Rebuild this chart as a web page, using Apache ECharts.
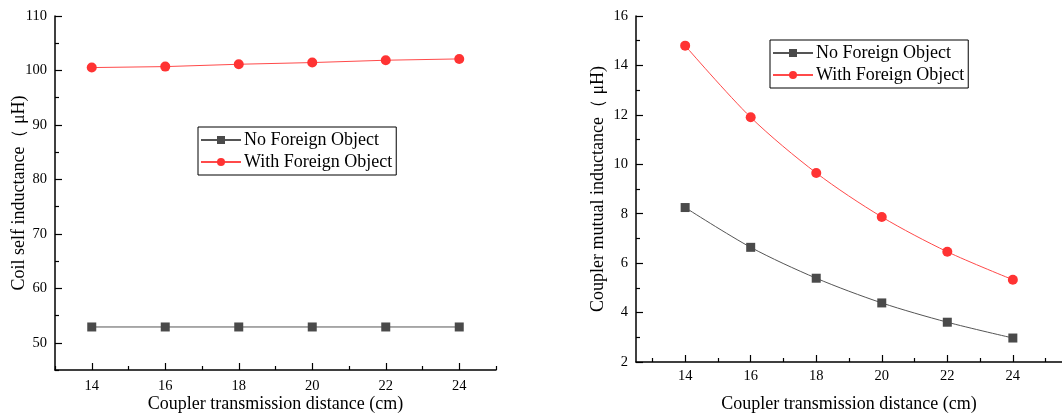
<!DOCTYPE html>
<html>
<head>
<meta charset="utf-8">
<script src="https://cdn.jsdelivr.net/npm/echarts@6/dist/echarts.min.js"></script>
<style>html,body{margin:0;padding:0;background:#fff;}#c{width:1062px;height:419px;}</style>
</head>
<body>
<div id="c"></div>
<script>
const distances = [14, 16, 18, 20, 22, 24];
const selfNoFO = [52.9, 52.9, 52.9, 52.9, 52.9, 52.9];
const selfWithFO = [100.53, 100.71, 101.14, 101.45, 101.88, 102.12];
const mutualNoFO = [8.25, 6.64, 5.39, 4.39, 3.61, 2.97];
const mutualWithFO = [14.80, 11.90, 9.65, 7.87, 6.46, 5.33];
const xMajor = [14, 16, 18, 20, 22, 24];
const xMinorLeft = [13, 15, 17, 19, 21, 23, 25];
const xMinorRight = [13, 15, 17, 19, 21, 23, 25];
const yMajorLeft = [50, 60, 70, 80, 90, 100, 110];
const yMinorLeft = [45, 55, 65, 75, 85, 95, 105];
const yMajorRight = [2, 4, 6, 8, 10, 12, 14, 16];
const yMinorRight = [3, 5, 7, 9, 11, 13, 15];

const FONT = 'Liberation Serif';
const NAME1 = 'No Foreign Object';
const NAME2 = 'With Foreign Object';
const pair = (xs, ys) => xs.map((x, i) => [x, ys[i]]);

function xAx(grid, min, max, majors, minors, namePad, labelMargin) {
  const base = {
    type: 'value', gridIndex: grid, min: min, max: max, position: 'bottom',
    splitLine: {show: false},
    axisLine: {show: true, onZero: false, lineStyle: {color: '#000', width: 1.5}}
  };
  return [
    Object.assign({}, base, {
      name: 'Coupler transmission distance (cm)',
      nameLocation: 'middle', nameGap: namePad, nameMoveOverlap: false,
      nameTextStyle: {fontFamily: FONT, fontSize: 18, color: '#000'},
      axisTick: {show: true, inside: true, length: 7, customValues: majors, lineStyle: {color: '#000', width: 1.2}},
      axisLabel: {show: true, customValues: majors, fontFamily: FONT, fontSize: 14.5, color: '#000', margin: labelMargin}
    }),
    Object.assign({}, base, {
      axisLine: {show: false},
      axisTick: {show: true, inside: true, length: 4, customValues: minors, lineStyle: {color: '#000', width: 1.2}},
      axisLabel: {show: false}
    })
  ];
}
function yAx(grid, min, max, majors, minors, name, gap) {
  const base = {
    type: 'value', gridIndex: grid, min: min, max: max, position: 'left',
    splitLine: {show: false},
    axisLine: {show: true, onZero: false, lineStyle: {color: '#000', width: 1.5}}
  };
  return [
    Object.assign({}, base, {
      name: name, nameLocation: 'middle', nameGap: gap, nameMoveOverlap: false,
      nameTextStyle: {fontFamily: FONT, fontSize: 18, color: '#000'},
      axisTick: {show: true, inside: true, length: 7, customValues: majors, lineStyle: {color: '#000', width: 1.2}},
      axisLabel: {show: true, customValues: majors, fontFamily: FONT, fontSize: 14.5, color: '#000', margin: 8}
    }),
    Object.assign({}, base, {
      axisLine: {show: false},
      axisTick: {show: true, inside: true, length: 4, customValues: minors, lineStyle: {color: '#000', width: 1.2}},
      axisLabel: {show: false}
    })
  ];
}

const xAxes = [].concat(
  xAx(0, 13, 25, xMajor, xMinorLeft, 25, 9),
  xAx(1, 12.5, 25.5, xMajor, xMinorRight, 33, 7)
);
const yAxes = [].concat(
  yAx(0, 45, 110, yMajorLeft, yMinorLeft, 'Coil self inductance（ μH)', 27),
  yAx(1, 2, 16, yMajorRight, yMinorRight, 'Coupler mutual inductance（ μH)', 29)
);

function ser(name, data, xi, yi, isRed, smooth) {
  return {
    name: name, type: 'line', xAxisIndex: xi, yAxisIndex: yi, data: data,
    smooth: smooth, symbol: isRed ? 'circle' : 'rect', symbolSize: isRed ? 10 : 9,
    lineStyle: {color: isRed ? '#ff4a4a' : '#555555', width: 1},
    itemStyle: {color: isRed ? '#ff3333' : '#4a4a4a'},
    animation: false
  };
}

const legendCommon = {
  orient: 'vertical', data: [NAME1, NAME2],
  itemWidth: 40, itemHeight: 10, itemGap: 4,
  borderColor: '#000', borderWidth: 1, padding: [4, 4, 4, 2],
  textStyle: {fontFamily: FONT, fontSize: 18, color: '#000', padding: [0, 0, 0, -2]},
  selectedMode: false
};

const chart = echarts.init(document.getElementById('c'), null, {renderer: 'canvas'});
chart.setOption({
  backgroundColor: '#fff',
  animation: false,
  grid: [
    {left: 55, top: 16, width: 441, height: 354},
    {left: 636, top: 16, width: 447, height: 346}
  ],
  legend: [
    Object.assign({}, legendCommon, {left: 198, top: 127}),
    Object.assign({}, legendCommon, {left: 770, top: 40})
  ],
  xAxis: xAxes,
  yAxis: yAxes,
  series: [
    ser(NAME1, pair(distances, selfNoFO), 0, 0, false, false),
    ser(NAME2, pair(distances, selfWithFO), 0, 0, true, false),
    ser(NAME1, pair(distances, mutualNoFO), 2, 2, false, 0.3),
    ser(NAME2, pair(distances, mutualWithFO), 2, 2, true, 0.3)
  ]
});
</script>
</body>
</html>
